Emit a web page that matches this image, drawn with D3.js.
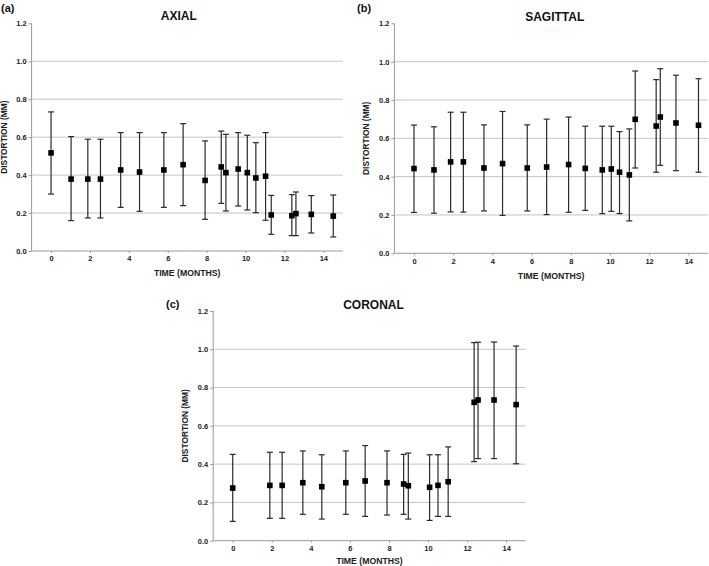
<!DOCTYPE html>
<html>
<head>
<meta charset="utf-8">
<script src="https://cdn.jsdelivr.net/npm/d3@7"></script>
<style>
  html, body { margin: 0; padding: 0; background: #fff; }
  svg { display: block; font-family: "Liberation Sans", Arial, sans-serif; }
</style>
</head>
<body>
<svg id="chart" width="709" height="566"></svg>
<script>
// ---- Data ----
const xTicks = [0, 2, 4, 6, 8, 10, 12, 14];
const yTicks = [0, 0.2, 0.4, 0.6, 0.8, 1.0, 1.2];
const gridValues = [0.2, 0.4, 0.6, 0.8, 1.0];

const axialTime  = [0, 1.03, 1.89, 2.54, 3.58, 4.55, 5.80, 6.79, 7.92, 8.75, 8.99, 9.62, 10.09, 10.53, 11.03, 11.32, 12.38, 12.59, 13.38, 14.51];
const axialMean  = [0.517, 0.379, 0.379, 0.379, 0.427, 0.416, 0.427, 0.455, 0.372, 0.443, 0.413, 0.432, 0.413, 0.385, 0.394, 0.190, 0.186, 0.197, 0.193, 0.184];
const axialUpper = [0.733, 0.603, 0.589, 0.589, 0.624, 0.624, 0.624, 0.671, 0.580, 0.632, 0.615, 0.624, 0.610, 0.571, 0.624, 0.293, 0.297, 0.311, 0.292, 0.295];
const axialLower = [0.300, 0.160, 0.174, 0.174, 0.230, 0.209, 0.230, 0.239, 0.167, 0.251, 0.211, 0.237, 0.216, 0.202, 0.162, 0.088, 0.081, 0.081, 0.095, 0.074];

const sagittalTime  = [0, 1.02, 1.87, 2.52, 3.57, 4.52, 5.78, 6.77, 7.89, 8.74, 9.61, 10.07, 10.49, 10.99, 11.29, 12.36, 12.57, 13.37, 14.52];
const sagittalMean  = [0.442, 0.435, 0.477, 0.477, 0.445, 0.468, 0.445, 0.450, 0.463, 0.443, 0.435, 0.440, 0.423, 0.409, 0.699, 0.664, 0.711, 0.680, 0.668];
const sagittalUpper = [0.669, 0.660, 0.736, 0.736, 0.670, 0.740, 0.670, 0.700, 0.711, 0.663, 0.663, 0.663, 0.635, 0.649, 0.951, 0.906, 0.963, 0.929, 0.911];
const sagittalLower = [0.213, 0.209, 0.216, 0.215, 0.221, 0.198, 0.221, 0.202, 0.214, 0.224, 0.207, 0.219, 0.207, 0.169, 0.445, 0.423, 0.459, 0.431, 0.423];

const coronalTime  = [0, 1.90, 2.53, 3.59, 4.56, 5.79, 6.78, 7.90, 8.75, 8.99, 10.08, 10.51, 11.03, 12.36, 12.56, 13.38, 14.51];
const coronalMean  = [0.275, 0.289, 0.289, 0.303, 0.282, 0.303, 0.312, 0.303, 0.296, 0.287, 0.279, 0.289, 0.308, 0.723, 0.735, 0.735, 0.711];
const coronalUpper = [0.451, 0.462, 0.462, 0.469, 0.449, 0.469, 0.497, 0.469, 0.451, 0.458, 0.449, 0.449, 0.490, 1.035, 1.037, 1.038, 1.017];
const coronalLower = [0.101, 0.117, 0.117, 0.138, 0.113, 0.138, 0.127, 0.134, 0.138, 0.113, 0.106, 0.127, 0.127, 0.413, 0.429, 0.429, 0.402];

const panels = [
  { tag: "(a)", title: "AXIAL", time: axialTime, mean: axialMean, upper: axialUpper, lower: axialLower,
    left: 31.6, right: 342.8, top: 23.3, bottom: 251, tagX: 1, tagY: 12,
    titleX: 178.8, titleY: 20, xLabelY: 276 },
  { tag: "(b)", title: "SAGITTAL", time: sagittalTime, mean: sagittalMean, upper: sagittalUpper, lower: sagittalLower,
    left: 394.4, right: 707.9, top: 23.3, bottom: 253.3, tagX: 357, tagY: 12,
    titleX: 554.7, titleY: 20.5, xLabelY: 278.5 },
  { tag: "(c)", title: "CORONAL", time: coronalTime, mean: coronalMean, upper: coronalUpper, lower: coronalLower,
    left: 213.2, right: 525.7, top: 311, bottom: 540.7, tagX: 166, tagY: 308,
    titleX: 373.5, titleY: 309, xLabelY: 563.5 }
];

const svg = d3.select("#chart");

panels.forEach(p => {
  const x = d3.scaleLinear().domain([-1, 15]).range([p.left, p.right]);
  const y = d3.scaleLinear().domain([0, 1.2]).range([p.bottom, p.top]);
  const g = svg.append("g");

  // gridlines
  g.selectAll("line.grid").data(gridValues).enter().append("line")
    .attr("x1", p.left).attr("x2", p.right)
    .attr("y1", d => y(d)).attr("y2", d => y(d))
    .attr("stroke", "#c4c4c4").attr("stroke-width", 1);

  // y axis
  const yAxis = g.append("g").attr("transform", `translate(${p.left},0)`)
    .call(d3.axisLeft(y).tickValues(yTicks).tickFormat(d3.format(".1f")).tickSize(3).tickPadding(2));
  // x axis
  const xAxis = g.append("g").attr("transform", `translate(0,${p.bottom})`)
    .call(d3.axisBottom(x).tickValues(xTicks).tickFormat(d3.format("d")).tickSize(2).tickPadding(3));

  [yAxis, xAxis].forEach(a => {
    a.select(".domain").attr("stroke", "#9a9a9a").attr("stroke-width", 1);
    a.selectAll(".tick line").attr("stroke", "#9a9a9a");
    a.selectAll(".tick text").attr("fill", "#222").attr("font-size", 7.5).attr("font-weight", "bold")
      .attr("font-family", "'Liberation Sans', Arial, sans-serif");
  });
  xAxis.select(".domain").attr("d", `M${p.left},0H${p.right}`);
  yAxis.select(".domain").attr("d", `M0,${p.top}V${p.bottom}`);

  // error bars
  const idx = d3.range(p.time.length);
  const cap = 3;
  const eb = g.append("g").attr("stroke", "#2a2a2a").attr("stroke-width", 1.2);
  idx.forEach(i => {
    const cx = x(p.time[i]);
    eb.append("line").attr("x1", cx).attr("x2", cx).attr("y1", y(p.upper[i])).attr("y2", y(p.lower[i]));
    eb.append("line").attr("x1", cx - cap).attr("x2", cx + cap).attr("y1", y(p.upper[i])).attr("y2", y(p.upper[i]));
    eb.append("line").attr("x1", cx - cap).attr("x2", cx + cap).attr("y1", y(p.lower[i])).attr("y2", y(p.lower[i]));
  });

  // markers
  const s = 5.6;
  g.selectAll("rect.pt").data(idx).enter().append("rect")
    .attr("x", i => x(p.time[i]) - s / 2).attr("y", i => y(p.mean[i]) - s / 2)
    .attr("width", s).attr("height", s).attr("fill", "#000");

  // title
  g.append("text").attr("x", p.titleX).attr("y", p.titleY)
    .attr("text-anchor", "middle").attr("font-size", 12).attr("font-weight", "bold").attr("fill", "#111")
    .text(p.title);

  // panel tag
  g.append("text").attr("x", p.tagX).attr("y", p.tagY)
    .attr("font-size", 11).attr("font-weight", "bold").attr("fill", "#111").text(p.tag);

  // x label
  g.append("text").attr("x", (p.left + p.right) / 2).attr("y", p.xLabelY)
    .attr("text-anchor", "middle").attr("font-size", 8.7).attr("font-weight", "bold").attr("fill", "#222")
    .text("TIME (MONTHS)");

  // y label
  const ly = (p.top + p.bottom) / 2;
  const lx = p.left - 25;
  g.append("text").attr("transform", `translate(${lx},${ly}) rotate(-90)`)
    .attr("text-anchor", "middle").attr("font-size", 8.4).attr("font-weight", "bold").attr("fill", "#222")
    .text("DISTORTION (MM)");
});
</script>
</body>
</html>
